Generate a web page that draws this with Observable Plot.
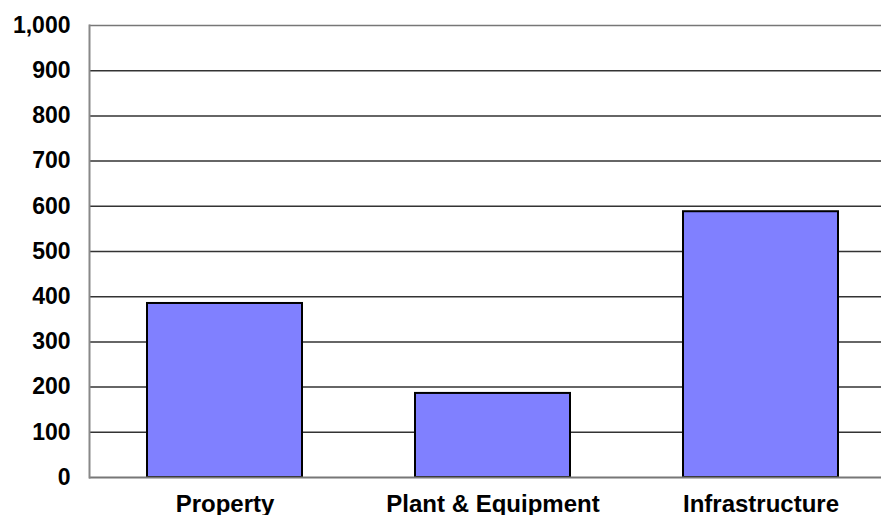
<!DOCTYPE html>
<html>
<head>
<meta charset="utf-8">
<script src="https://cdn.jsdelivr.net/npm/d3@7"></script>
<script src="https://cdn.jsdelivr.net/npm/@observablehq/plot@0.6"></script>
<style>
  html, body { margin: 0; padding: 0; background: #fff; overflow: hidden; }
  #chart svg { overflow: hidden; }
</style>
</head>
<body>
<div id="chart"></div>
<script>
// Asset classes and their values
const categories = ["Property", "Plant & Equipment", "Infrastructure"];
const values = [385, 186, 588];
const yTicks = [0, 100, 200, 300, 400, 500, 600, 700, 800, 900, 1000];

const data = categories.map((c, i) => ({category: c, value: values[i]}));

const chart = Plot.plot({
  width: 881,
  height: 515,
  marginLeft: 89,
  marginTop: 25,
  marginBottom: 38,
  marginRight: 0,
  style: {fontFamily: "'Liberation Sans', Arial, sans-serif", fontWeight: "bold", color: "#000", background: "#fff"},
  x: {domain: categories, range: [91, 895], paddingInner: 0.42, paddingOuter: 0.21, label: null},
  y: {domain: [0, 1000], label: null},
  marks: [
    Plot.ruleY(yTicks.filter(d => d > 0 && d < 1000), {stroke: "#333", strokeWidth: 1.5}),
    Plot.ruleY([1000], {stroke: "#777", strokeWidth: 1.5}),
    Plot.barY(data, {x: "category", y: "value", fill: "#8080FF", stroke: "#000", strokeWidth: 2, inset: 0}),
    Plot.ruleY([0], {stroke: "#777", strokeWidth: 2}),
    Plot.axisX({tickSize: 0, tickPadding: 17, fontSize: 24, label: null}),
    Plot.axisY(yTicks, {tickSize: 0, tickPadding: 19, fontSize: 23, tickFormat: d3.format(","), label: null}),
    Plot.frame({anchor: "left", stroke: "#888", strokeWidth: 2})
  ]
});
document.getElementById("chart").appendChild(chart);
</script>
</body>
</html>
